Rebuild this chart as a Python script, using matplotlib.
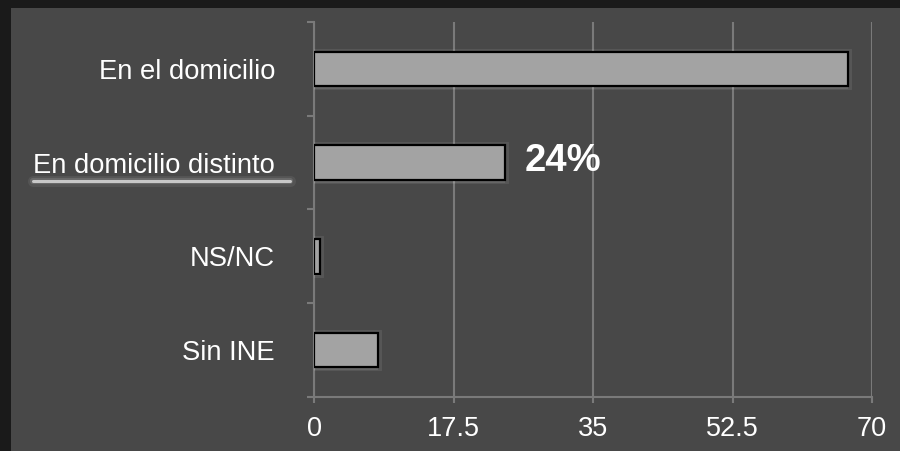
import matplotlib
matplotlib.use("Agg")
import matplotlib.pyplot as plt
import matplotlib.patheffects as pe
from matplotlib.patches import Rectangle
from matplotlib.lines import Line2D

categories = ["En el domicilio", "En domicilio distinto", "NS/NC", "Sin INE"]
values = [67, 24, 0.8, 8]
xticks = [0, 17.5, 35, 52.5, 70]
xtick_labels = ["0", "17.5", "35", "52.5", "70"]
highlight_index = 1
highlight_label = "24%"

plt.rcParams['font.family'] = ['Liberation Sans', 'DejaVu Sans']

W, H = 900, 451
fig = plt.figure(figsize=(W / 100, H / 100), dpi=100)
fig.patch.set_facecolor("#1a1a1a")

# inner panel
fig.add_artist(Rectangle((11 / W, 0), 1 - 11 / W, 1 - 8 / H, transform=fig.transFigure,
                         facecolor="#484848", edgecolor="none", zorder=0))

ax = fig.add_axes([314 / W, 1 - 397 / H, (872 - 314) / W, (397 - 22) / H])
ax.set_facecolor("none")

ypos = list(range(len(categories)))
bars = ax.barh(ypos, values, height=0.37, color="#a3a3a3", edgecolor="black",
               linewidth=1.6, zorder=3)
for b in bars:
    b.set_path_effects([pe.SimplePatchShadow(offset=(0, -2), shadow_rgbFace="white", alpha=0.10),
                        pe.Stroke(linewidth=5, foreground="white", alpha=0.08),
                        pe.Normal()])

ax.set_xlim(0, 70)
ax.set_ylim(len(categories) - 0.5, -0.5)

ax.set_xticks(xticks)
ax.set_xticklabels(xtick_labels)
ax.set_yticks(ypos)
ax.set_yticklabels(categories)
ax.set_yticks([i - 0.5 for i in range(len(categories) + 1)], minor=True)

ax.tick_params(axis="y", which="major", length=0, pad=28, labelsize=19.7, labelcolor="white")
ax.tick_params(axis="y", which="minor", length=5, width=1.5, color="#7a7a7a")
ax.tick_params(axis="x", which="major", length=4.5, width=1.5, color="#7a7a7a",
               pad=9, labelsize=19.5, labelcolor="white")

ax.grid(axis="x", color="#7a7a7a", linewidth=1.5, zorder=1)
ax.set_axisbelow(True)
for s in ["top", "right"]:
    ax.spines[s].set_visible(False)
for s in ["left", "bottom"]:
    ax.spines[s].set_color("#7a7a7a")
    ax.spines[s].set_linewidth(1.5)

ax.annotate(highlight_label, xy=(values[highlight_index], highlight_index),
            xytext=(14, 1), textcoords="offset points", va="center", ha="left",
            fontsize=27.5, fontweight="bold", color="white")

# brush underline under highlighted label
ul = Line2D([33 / W, 290 / W], [1 - 181 / H, 1 - 181 / H], transform=fig.transFigure,
            color="#c8c8c8", linewidth=2.2, solid_capstyle="round")
ul.set_path_effects([pe.Stroke(linewidth=8, foreground="white", alpha=0.07),
                     pe.Stroke(linewidth=4.5, foreground="white", alpha=0.12),
                     pe.Normal()])
fig.add_artist(ul)

fig.savefig("out.png", dpi=100, facecolor=fig.get_facecolor())
